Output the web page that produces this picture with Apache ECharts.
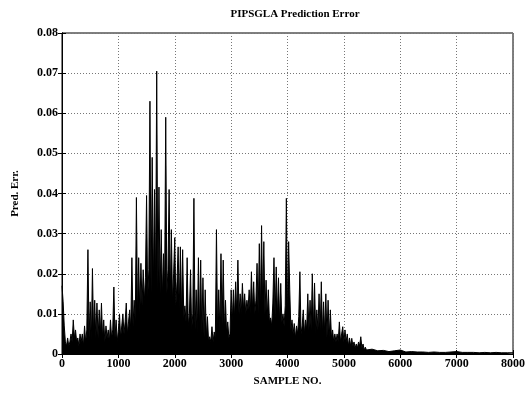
<!DOCTYPE html>
<html><head><meta charset="utf-8">
<script src="https://cdn.jsdelivr.net/npm/echarts@6/dist/echarts.min.js"></script>
<style>html,body{margin:0;padding:0;background:#fff}#c{width:528px;height:395px}</style>
</head><body><div id="c"></div>
<script>
// Prediction error readings: [sample no., error]
var errSeg1 = [[0,0.017],[20,0.013],[40,0.007],[60,0.003],[80,0.002],[100,0.004],[120,0.002],[140,0.003],[160,0.005],[180,0.003],
[200,0.0085],[220,0.004],[240,0.006],[260,0.003],[280,0.004],[300,0.002],[320,0.005],[340,0.003],[360,0.005],[380,0.002],
[400,0.007],[420,0.003],[440,0.006],[460,0.026],[480,0.004],[500,0.013],[520,0.003],[540,0.0213],[560,0.005],[580,0.0134],
[600,0.004],[620,0.0127],[640,0.004],[660,0.011],[680,0.005],[700,0.0127],[720,0.004],[740,0.0085],[760,0.003],[780,0.007],
[800,0.004],[820,0.006],[840,0.003],[860,0.0085],[880,0.004],[900,0.006],[920,0.0167],[940,0.004],[960,0.0085],[980,0.003]];
var errSeg2 = [[1000,0.006],[1020,0.010],[1040,0.004],[1060,0.007],[1080,0.010],[1100,0.005],[1120,0.008],[1140,0.0127],[1160,0.005],[1180,0.008],
[1200,0.011],[1220,0.006],[1240,0.024],[1260,0.007],[1280,0.0134],[1300,0.008],[1320,0.039],[1340,0.009],[1360,0.024],[1380,0.010],
[1400,0.0226],[1420,0.012],[1440,0.021],[1460,0.013],[1480,0.019],[1500,0.0395],[1520,0.014],[1540,0.021],[1560,0.063],[1580,0.015],
[1600,0.049],[1620,0.016],[1640,0.041],[1660,0.017],[1680,0.0705],[1700,0.016],[1720,0.0416],[1740,0.015],[1760,0.031],[1780,0.014],
[1800,0.025],[1820,0.016],[1840,0.059],[1860,0.015],[1880,0.021],[1900,0.041],[1920,0.014],[1940,0.031],[1960,0.013],[1980,0.020]];
var errSeg3 = [[2000,0.029],[2020,0.012],[2040,0.018],[2060,0.0267],[2080,0.011],[2100,0.0267],[2120,0.010],[2140,0.026],[2160,0.009],[2180,0.012],
[2200,0.008],[2220,0.024],[2240,0.007],[2260,0.010],[2280,0.021],[2300,0.006],[2320,0.010],[2340,0.0388],[2360,0.006],[2380,0.016],
[2400,0.005],[2420,0.024],[2440,0.006],[2460,0.0234],[2480,0.005],[2500,0.019],[2520,0.004],[2540,0.016],[2560,0.004],[2580,0.0093],
[2600,0.003],[2620,0.0043],[2640,0.003],[2660,0.0068],[2680,0.003],[2700,0.0055],[2720,0.004],[2740,0.031],[2760,0.005],[2780,0.016],
[2800,0.006],[2820,0.025],[2840,0.007],[2860,0.0234],[2880,0.006],[2900,0.0134],[2920,0.005],[2940,0.008],[2960,0.004],[2980,0.005]];
var errSeg4 = [[3000,0.016],[3020,0.008],[3040,0.016],[3060,0.009],[3080,0.018],[3100,0.010],[3120,0.0234],[3140,0.010],[3160,0.015],[3180,0.010],
[3200,0.0176],[3220,0.011],[3240,0.015],[3260,0.010],[3280,0.0134],[3300,0.011],[3320,0.016],[3340,0.010],[3360,0.0205],[3380,0.011],
[3400,0.018],[3420,0.010],[3440,0.0134],[3460,0.0226],[3480,0.010],[3500,0.0275],[3520,0.011],[3540,0.032],[3560,0.012],[3580,0.028],
[3600,0.010],[3620,0.0184],[3640,0.009],[3660,0.016],[3680,0.008],[3700,0.009],[3720,0.007],[3740,0.0127],[3760,0.024],[3780,0.009],
[3800,0.0217],[3820,0.009],[3840,0.019],[3860,0.008],[3880,0.0176],[3900,0.008],[3920,0.010],[3940,0.007],[3960,0.012],[3980,0.0388]];
var errSeg5 = [[4000,0.009],[4020,0.028],[4040,0.016],[4060,0.006],[4080,0.0085],[4100,0.005],[4120,0.0076],[4140,0.004],[4160,0.007],[4180,0.005],
[4200,0.0093],[4220,0.0205],[4240,0.005],[4260,0.007],[4280,0.011],[4300,0.005],[4320,0.0085],[4340,0.006],[4360,0.015],[4380,0.006],
[4400,0.0134],[4420,0.006],[4440,0.020],[4460,0.006],[4480,0.0177],[4500,0.005],[4520,0.011],[4540,0.006],[4560,0.015],[4580,0.006],
[4600,0.018],[4620,0.005],[4640,0.013],[4660,0.005],[4680,0.015],[4700,0.004],[4720,0.0134],[4740,0.004],[4760,0.011],[4780,0.004],
[4800,0.006],[4820,0.003],[4840,0.005],[4860,0.003],[4880,0.005],[4900,0.003],[4920,0.008],[4940,0.003],[4960,0.005],[4980,0.0068]];
var errSeg6 = [[5000,0.003],[5020,0.006],[5040,0.003],[5060,0.005],[5080,0.002],[5100,0.004],[5120,0.002],[5140,0.0039],[5160,0.002],[5180,0.003],
[5200,0.0015],[5220,0.0025],[5240,0.0015],[5260,0.003],[5280,0.002],[5300,0.0043],[5320,0.0015],[5340,0.0025],[5360,0.001],[5380,0.0017],
[5400,0.001],[5500,0.0012],[5600,0.0008],[5700,0.0009],[5800,0.0006],[5900,0.0008],[6000,0.001],[6100,0.0005],[6200,0.0006],[6300,0.0005],
[6400,0.0005],[6500,0.0004],[6600,0.0005],[6700,0.0004],[6800,0.0004],[6900,0.0005],[7000,0.0006],[7100,0.0004],[7200,0.0004],[7300,0.0004],
[7400,0.0003],[7500,0.0004],[7600,0.0003],[7700,0.0004],[7800,0.0003],[7900,0.0003],[8000,0.0003]];
var xTicks = [0,1000,2000,3000,4000,5000,6000,7000,8000];
var yTicks = ['0','0.01','0.02','0.03','0.04','0.05','0.06','0.07','0.08'];

var errData = errSeg1.concat(errSeg2, errSeg3, errSeg4, errSeg5, errSeg6);
var FONT = '"Liberation Serif", "DejaVu Serif", serif';
var lab = {color:'#000', fontFamily:FONT, fontWeight:'bold', fontSize:12};
var nameLab = {color:'#000', fontFamily:FONT, fontWeight:'bold', fontSize:11};
var chart = echarts.init(document.getElementById('c'), null, {renderer:'canvas'});
chart.setOption({
  animation:false,
  backgroundColor:'#fff',
  title:{text:'PIPSGLA Prediction Error', left:290, top:4, textAlign:'center',
    textStyle:{color:'#000', fontFamily:FONT, fontWeight:'bold', fontSize:11}},
  grid:{left:62, right:12, top:33, bottom:41, show:true, borderColor:'#000', borderWidth:1, backgroundColor:'transparent'},
  xAxis:[{type:'value', min:0, max:8000, interval:1000, name:'SAMPLE NO.', nameLocation:'middle', nameGap:22,
    nameTextStyle:nameLab,
    axisLine:{lineStyle:{color:'#000'}}, axisTick:{inside:true, length:4, lineStyle:{color:'#000'}},
    axisLabel:Object.assign({margin:4, formatter:function(v){return xTicks.indexOf(v)>=0?String(v):'';}}, lab),
    splitLine:{show:true, lineStyle:{type:[1,2], color:'#777', width:1}}},
    {type:'value', position:'top', min:0, max:8000, interval:1000, axisLine:{lineStyle:{color:'#000'}},
    axisTick:{inside:true, length:4, lineStyle:{color:'#000'}}, axisLabel:{show:false}, splitLine:{show:false}}],
  yAxis:[{type:'value', min:0, max:0.08, interval:0.01, name:'Pred. Err.', nameLocation:'middle', nameGap:41,
    nameTextStyle:nameLab,
    axisLine:{lineStyle:{color:'#000'}}, axisTick:{inside:true, length:4, lineStyle:{color:'#000'}},
    axisLabel:Object.assign({margin:4, formatter:function(v){var i=Math.round(v*100);return yTicks[i];}}, lab),
    splitLine:{show:true, lineStyle:{type:[1,2], color:'#777', width:1}}},
    {type:'value', position:'right', min:0, max:0.08, interval:0.01, axisLine:{lineStyle:{color:'#000'}},
    axisTick:{inside:true, length:4, lineStyle:{color:'#000'}}, axisLabel:{show:false}, splitLine:{show:false}}],
  series:[{type:'line', data:errData, showSymbol:false, symbol:'none', smooth:false,
    lineStyle:{color:'#000', width:1}, areaStyle:{color:'#000', opacity:1}}]
});
</script></body></html>
